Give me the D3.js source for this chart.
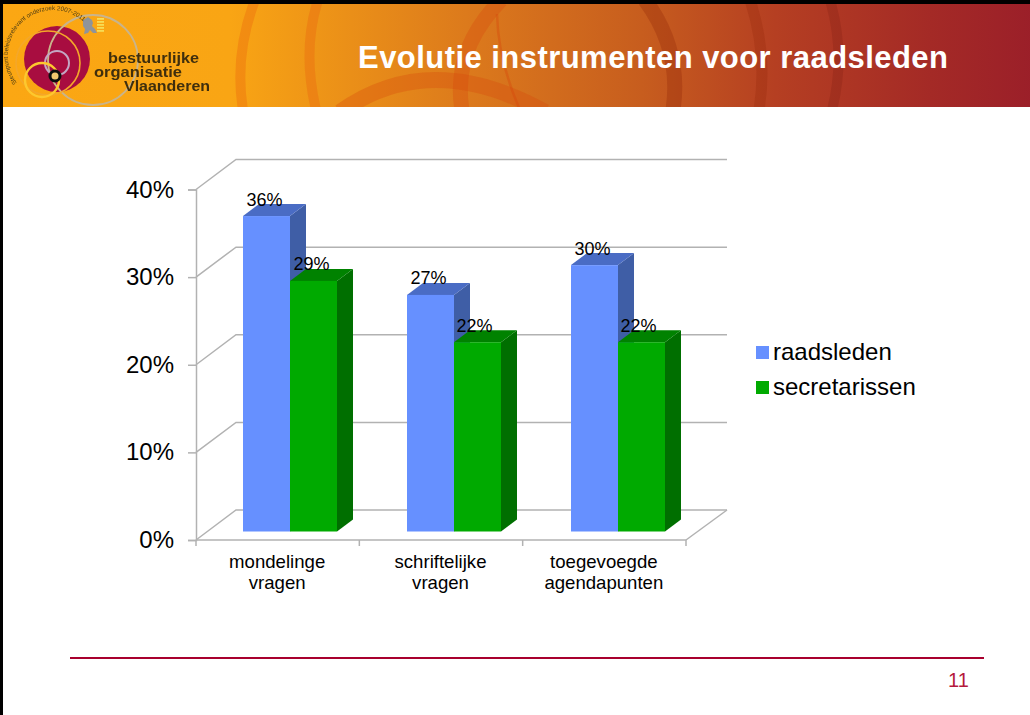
<!DOCTYPE html>
<html><head><meta charset="utf-8">
<script src="https://cdn.jsdelivr.net/npm/d3@7"></script>
<style>html,body{margin:0;padding:0;background:#fff}svg{display:block}text{font-family:"Liberation Sans",Arial,sans-serif}</style>
</head><body><svg id="c" width="1030" height="715"></svg>
<script>
const titleText = "Evolutie instrumenten voor raadsleden";
const pageNumber = "11";
const categories = [["mondelinge","vragen"],["schriftelijke","vragen"],["toegevoegde","agendapunten"]];
const seriesNames = ["raadsleden","secretarissen"];
const raadsleden = [36, 27, 30.4];
const secretarissen = [28.6, 21.6, 21.6];
const yTicks = [0,10,20,30,40];
const logoLines = ["bestuurlijke","organisatie","Vlaanderen"];

const svg = d3.select("#c");
const defs = svg.append("defs");
const W = 1030;

// ---------- header ----------
const grad = defs.append("linearGradient").attr("id","hd");
[[0,"#fba713"],[0.22,"#f9a514"],[0.45,"#dc7a1c"],[0.62,"#c75d1e"],[0.75,"#b53f22"],[0.9,"#a42a26"],[1,"#9b1f29"]]
  .forEach(([o,c])=>grad.append("stop").attr("offset",o).attr("stop-color",c));
defs.append("clipPath").attr("id","hc").append("rect").attr("x",3).attr("y",4).attr("width",W).attr("height",103);
defs.append("filter").attr("id","soft").append("feGaussianBlur").attr("stdDeviation",0.4);

svg.append("rect").attr("x",3).attr("y",4).attr("width",W).attr("height",103).attr("fill","url(#hd)");
const rings = svg.append("g").attr("clip-path","url(#hc)").attr("fill","none");
const ringDefs = [
  ["M255 0Q234 55 243 110",10,"#e8590c",.3],
  ["M318 0Q302 50 316 110",10,"#e8590c",.3],
  ["M501 0Q452 50 462 110",15,"#d8480c",.32],
  ["M497 14Q498 60 520 110",2.5,"#d8480c",.4],
  ["M340 112Q430 48 545 112",16,"#d8480c",.32],
  ["M645 0Q682 50 673 110",15,"#8f2408",.3],
  ["M750 0Q768 55 759 110",11,"#8f2408",.25],
  ["M830 0Q846 55 832 110",10,"#7a1c10",.25]
];
ringDefs.forEach(([d,w,c,o])=>rings.append("path").attr("d",d).attr("stroke",c).attr("stroke-width",w).attr("stroke-opacity",o));

svg.append("text").attr("x",358).attr("y",68).attr("fill","#fff").attr("font-weight","bold")
  .attr("font-size",31).attr("textLength",590).attr("lengthAdjust","spacing").text(titleText);

// ---------- logo ----------
const logo = svg.append("g").attr("filter","url(#soft)");
logo.append("circle").attr("cx",57).attr("cy",59).attr("r",33).attr("fill","#a80f3f");
logo.append("circle").attr("cx",93).attr("cy",60).attr("r",45).attr("fill","none").attr("stroke","#c9b48c").attr("stroke-width",1.8);
logo.append("circle").attr("cx",48).attr("cy",63).attr("r",32).attr("fill","none").attr("stroke","#f4a72a").attr("stroke-width",1.6);
logo.append("circle").attr("cx",57).attr("cy",63).attr("r",12).attr("fill","none").attr("stroke","#c4a6c4").attr("stroke-width",2);
logo.append("circle").attr("cx",42).attr("cy",80).attr("r",17).attr("fill","none").attr("stroke","#fdc82f").attr("stroke-width",2.4);
logo.append("circle").attr("cx",55).attr("cy",76).attr("r",5).attr("fill","#f3c66e").attr("stroke","#111").attr("stroke-width",3);
logo.append("path").attr("d","M83 20l5-3 4 3 1 3-1 3 3 3 2 4h-4l-3-3-2 3-4 1 1-5-2-3z").attr("fill","#8f949a");
[18,21,24,27,30].forEach(y=>logo.append("rect").attr("x",97).attr("y",y).attr("width",7).attr("height",1.8).attr("fill","#f7dc55"));
defs.append("path").attr("id","ringText").attr("d","M17 83A45.5 45.5 0 0 1 84 22");
logo.append("text").attr("font-size",6.2).attr("fill","#4a3a12")
  .append("textPath").attr("href","#ringText").text("Steunpunt beleidsrelevant onderzoek 2007-2011");
const logoPos = [[108,63,91],[94,77,88],[124,91,86]];
logoLines.forEach((t,i)=>logo.append("text").attr("x",logoPos[i][0]).attr("y",logoPos[i][1])
  .attr("font-weight","bold").attr("font-size",14.5).attr("fill","#3f2f0c")
  .attr("textLength",logoPos[i][2]).attr("lengthAdjust","spacingAndGlyphs").text(t));

// ---------- chart ----------
const depth = {x:40,y:-30}, bar = {x:16,y:-12}, lift = -8.5, gridCol = "#b2b2b2";
const y = d3.scaleLinear().domain([0,40]).range([540,189.5]);
const x = d3.scaleBand().domain(categories.map((d,i)=>i)).range([196,686]);
const barGroup = d3.scaleBand().domain(categories.map((d,i)=>i)).range([243,735]);
const barW = 47;
const pct = v => Math.round(v)+"%";

const grid = svg.append("g").attr("fill","none").attr("stroke",gridCol).attr("stroke-width",1.5);
const line = d3.line();
yTicks.forEach(t=>{
  const [x0,x1,yy]=[x.range()[0],x.range()[1],y(t)];
  grid.append("path").attr("d",line([[x0,yy],[x0+depth.x,yy+depth.y],[x1+depth.x+1,yy+depth.y]]));
});
grid.append("path").attr("d",line([[x.range()[1],y(0)],[x.range()[1]+depth.x+1,y(0)+depth.y]]));
grid.append("path").attr("d",line([[x.range()[0],y(0)],[x.range()[1],y(0)]]));

const yAxis = svg.append("g").attr("transform","translate(196,0)")
  .call(d3.axisLeft(y).tickValues(yTicks).tickSize(8).tickPadding(14).tickFormat(d=>d+"%"));
yAxis.selectAll("path.domain").attr("stroke",gridCol).attr("stroke-width",1.5);
yAxis.selectAll("line").attr("stroke",gridCol).attr("stroke-width",1.5);
yAxis.selectAll("text").attr("font-size",24).attr("fill","#000").attr("dy",7.5).style("font-family",'"Liberation Sans",Arial,sans-serif');

const xAxis = svg.append("g").attr("transform","translate(0,540)")
  .call(d3.axisBottom(x).tickSize(0).tickPadding(0).tickFormat(""));
xAxis.select("path.domain").remove();
const edges = categories.map((d,i)=>x(i)).concat([x.range()[1]]);
xAxis.selectAll("line.edge").data(edges).join("line").attr("class","edge")
  .attr("x1",d=>d).attr("x2",d=>d).attr("y1",0).attr("y2",6).attr("stroke",gridCol).attr("stroke-width",1.5);
xAxis.selectAll("text").each(function(d){
  const t = d3.select(this).attr("y",0).attr("dy",null).attr("font-size",18.6).attr("fill","#000")
    .attr("text-anchor","middle").style("font-family",'"Liberation Sans",Arial,sans-serif');
  categories[d].forEach((s,j)=>t.append("tspan").attr("x",-0.5).attr("y",28+j*21).text(s));
});

const seriesVals = [raadsleden, secretarissen];
const faces = [
  {front:"#6690ff",top:"#4a6cc4",side:"#3f5ea6"},
  {front:"#00aa00",top:"#008200",side:"#006f00"}
];
const base = y(0)+lift;
categories.forEach((c,i)=>{
  seriesVals.forEach((vals,s)=>{
    const v = vals[i], L = barGroup(i)+s*barW, R = L+barW, T = y(v)+lift, f = faces[s];
    const g = svg.append("g");
    g.append("path").attr("fill",f.side).attr("d",line([[R,T],[R+bar.x,T+bar.y],[R+bar.x,base+bar.y],[R,base]])+"Z");
    g.append("path").attr("fill",f.top).attr("d",line([[L,T],[L+bar.x,T+bar.y],[R+bar.x,T+bar.y],[R,T]])+"Z");
    g.append("rect").attr("x",L).attr("y",T).attr("width",barW).attr("height",base-T).attr("fill",f.front);
  });
});
categories.forEach((c,i)=>{
  seriesVals.forEach((vals,s)=>{
    const v = vals[i], L = barGroup(i)+s*barW;
    svg.append("text").attr("x",L+barW/2-2-(s&&i?1:0)).attr("y",y(v)+lift-10.5).attr("text-anchor","middle")
      .attr("font-size",18).attr("fill","#000").text(pct(v));
  });
});

// ---------- legend ----------
seriesNames.forEach((n,i)=>{
  const ly = 346+i*35;
  svg.append("rect").attr("x",756).attr("y",ly).attr("width",13).attr("height",13).attr("fill",faces[i].front);
  svg.append("text").attr("x",773).attr("y",ly+13.5).attr("font-size",24).attr("fill","#000").text(n);
});

// ---------- footer & frame ----------
svg.append("rect").attr("x",70).attr("y",657).attr("width",914).attr("height",2).attr("fill","#a8002e");
svg.append("text").attr("x",948).attr("y",686.5).attr("font-size",20).attr("fill","#b5193c").text(pageNumber);
svg.append("rect").attr("x",0).attr("y",0).attr("width",W).attr("height",4).attr("fill","#000");
svg.append("rect").attr("x",0).attr("y",0).attr("width",3).attr("height",715).attr("fill","#000");
</script></body></html>
